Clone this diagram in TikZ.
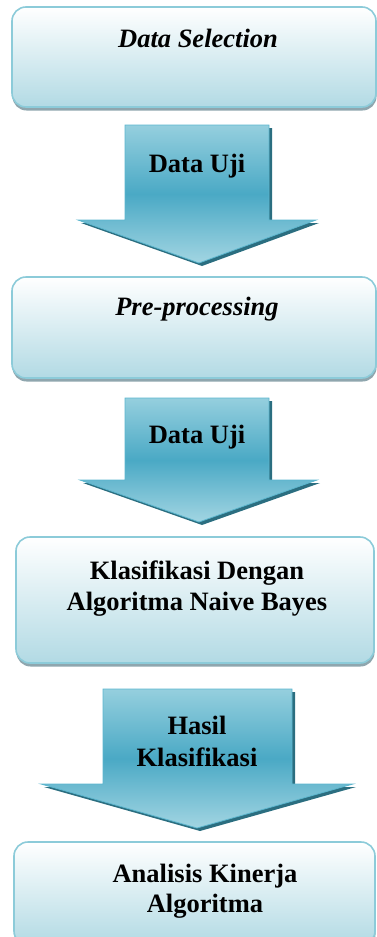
\documentclass[tikz,border=0pt]{standalone}
\usepackage{fontspec}
\setmainfont{Liberation Serif}
\usetikzlibrary{shadows}
\definecolor{boxline}{HTML}{8CCBD9}
\definecolor{boxfill}{HTML}{B2DAE4}
\definecolor{boxshade}{HTML}{8FA6AE}
\definecolor{arrowtop}{HTML}{95CFDE}
\definecolor{arrowmid}{HTML}{4AA9C5}
\definecolor{arrowbot}{HTML}{A2D5E2}
\definecolor{arrowline}{HTML}{5CB6CE}
\definecolor{arrowshade}{HTML}{2B6E80}

\begin{document}
\begin{tikzpicture}[x=1pt,y=-1pt,stage/.style={draw=boxline,line width=1.6pt,rounded corners=14pt,top color=white,bottom color=boxfill,drop shadow={shadow xshift=0.5pt,shadow yshift=-3.5pt,fill=boxshade,opacity=1}},flow/.style={draw=arrowline,line width=0.8pt,top color=arrowtop,bottom color=arrowbot,middle color=arrowmid,drop shadow={shadow xshift=3pt,shadow yshift=-3pt,fill=arrowshade,opacity=1}},txt/.style={inner sep=0pt,font=\fontsize{26.5}{31}\selectfont\bfseries,align=center}]
\def\sl{125};
\def\sr{269};
\clip (0,0) rectangle (377,937);

\node[stage,minimum width=364pt,minimum height=100pt] (sel) at (194,57) {};
\node[txt,anchor=base,font=\fontsize{26.5}{31}\selectfont\bfseries\itshape] (selT) at (198,47) {Data Selection};

\draw[flow] (\sl,125) -- (\sr,125) -- (\sr,220) -- (316,220) -- (199,263) -- (78,220) -- (\sl,220) -- cycle;
\node[txt,anchor=base] (uji1) at (197,172) {Data Uji};

\node[stage,minimum width=364pt,minimum height=101pt] (prep) at (194,327.5) {};
\node[txt,anchor=base,font=\fontsize{26.5}{31}\selectfont\bfseries\itshape] (prepT) at (197,315) {Pre-processing};

\draw[flow] (\sl,398) -- (\sr,398) -- (\sr,480) -- (317,480) -- (199,522) -- (80,480) -- (\sl,480) -- cycle;
\node[txt,anchor=base] (uji2) at (197,443) {Data Uji};

\node[stage,minimum width=358pt,minimum height=126pt] (klas) at (195,600) {};
\node[txt,anchor=base] (klasT) at (197,610) {Klasifikasi Dengan\\Algoritma Naive Bayes};

\draw[flow] (103,689) -- (292,689) -- (292,784) -- (353,784) -- (197,828) -- (41,784) -- (103,784) -- cycle;
\node[txt,anchor=base,font=\fontsize{26.5}{32}\selectfont\bfseries] (hasil) at (197,766) {Hasil\\Klasifikasi};

\node[stage,minimum width=361pt,minimum height=103pt] (anal) at (194.5,893.5) {};
\node[txt,anchor=base,font=\fontsize{26.5}{30}\selectfont\bfseries] (analT) at (205,912) {Analisis Kinerja\\Algoritma};
\end{tikzpicture}
\end{document}
